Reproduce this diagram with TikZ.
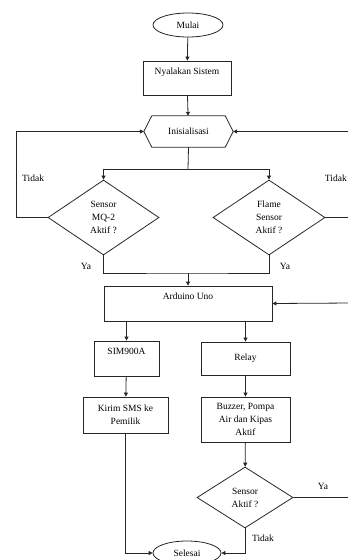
\documentclass[tikz,border=0pt]{standalone}
\usepackage{fontspec}
\setmainfont{Liberation Serif}
\usetikzlibrary{shapes.geometric,arrows.meta}
\begin{document}
\begin{tikzpicture}[x=1pt,y=-1pt,
  font=\fontsize{9.5}{13}\selectfont,
  ln/.style={draw=black!85, line width=0.8pt},
  arr/.style={ln, -{Triangle[length=4pt,width=4pt]}},
  box/.style={ln, rectangle, inner sep=0pt, align=center},
  term/.style={ln, ellipse, inner sep=0pt},
  dec/.style={ln, diamond, inner sep=0pt, align=center},
  lbl/.style={inner sep=0pt}]
\useasboundingbox (0,0) rectangle (348,560);
% nodes
\node[term, minimum width=70pt, minimum height=24pt] (mulai) at (188,25) {Mulai};
\node[box, minimum width=88pt, minimum height=34pt] (nyala) at (187,78) {};
\node[lbl, anchor=north] (nyalat) at ([yshift=-7pt]nyala.north) {Nyalakan Sistem};
\node[minimum width=89pt, minimum height=31pt, inner sep=0pt] (init) at (188.5,131.5) {Inisialisasi};
\draw[ln] (init.west) -- ([xshift=8pt]init.north west) -- ([xshift=-8pt]init.north east) -- (init.east)
  -- ([xshift=-8pt]init.south east) -- ([xshift=8pt]init.south west) -- cycle;
\node[dec, minimum width=111pt, minimum height=75pt] (d1) at (103.5,217.5) {Sensor\\MQ-2\\Aktif ?};
\node[dec, minimum width=112pt, minimum height=75pt] (d2) at (269,217.5) {Flame\\Sensor\\Aktif ?};
\node[box, minimum width=168pt, minimum height=35pt] (ard) at (188,303.5) {};
\node[lbl, anchor=north] (ardt) at ([yshift=-7pt]ard.north) {Arduino Uno};
\node[box, minimum width=65pt, minimum height=35pt] (sim) at (126.5,358.5) {};
\node[lbl, anchor=north] (simt) at ([yshift=-7pt]sim.north) {SIM900A};
\node[box, minimum width=89pt, minimum height=33pt] (relay) at (245.5,358.5) {Relay};
\node[box, minimum width=85pt, minimum height=36pt] (kirim) at (125.5,415) {Kirim SMS ke\\Pemilik};
\node[box, minimum width=89pt, minimum height=45pt] (buzz) at (245.5,419.5) {Buzzer, Pompa\\Air dan Kipas\\Aktif};
\node[dec, minimum width=96pt, minimum height=61pt] (d3) at (245,497.5) {Sensor\\Aktif ?};
\node[term, minimum width=68pt, minimum height=24pt] (selesai) at (187,553) {Selesai};
% coordinates
\coordinate (s1) at (188,169);
\coordinate (lt) at (16,131.5);
\coordinate (rt) at (352,131.5);
\coordinate (ya) at (188,273);
\coordinate (rt2) at (352,303);
% connectors
\draw[arr] (mulai) -- (nyala);
\draw[arr] (nyala) -- (init);
\draw[ln] (init.south) -- (s1);
\draw[arr] (s1) -| (d1.north);
\draw[arr] (s1) -| (d2.north);
\draw[arr] (d1.west) -| (lt) -- (init.west);
\draw[arr] (d2.east) -| (rt) -- (init.east);
\draw[ln] (d1.south) |- (ya) -| (d2.south);
\draw[arr] (ya) -- (ard.north);
\draw[arr] (ard.south -| sim.north) -- (sim.north);
\draw[arr] (ard.south -| relay.north) -- (relay.north);
\draw[arr] (sim) -- (kirim);
\draw[arr] (relay) -- (buzz);
\draw[arr] (buzz) -- (d3);
\draw[arr] (d3.east) -| (rt2) -- (ard.east);
\draw[arr] (d3.south) |- (selesai.east);
\draw[arr] (kirim.south) |- (selesai.west);
% labels
\node[lbl, anchor=west] (t1) at (22,178) {Tidak};
\node[lbl, anchor=east] (t2) at (347,178) {Tidak};
\node[lbl] (y1) at (86,266) {Ya};
\node[lbl] (y2) at (285,266) {Ya};
\node[lbl] (y3) at (323,486) {Ya};
\node[lbl] (t3) at (263,538) {Tidak};
\end{tikzpicture}
\end{document}
